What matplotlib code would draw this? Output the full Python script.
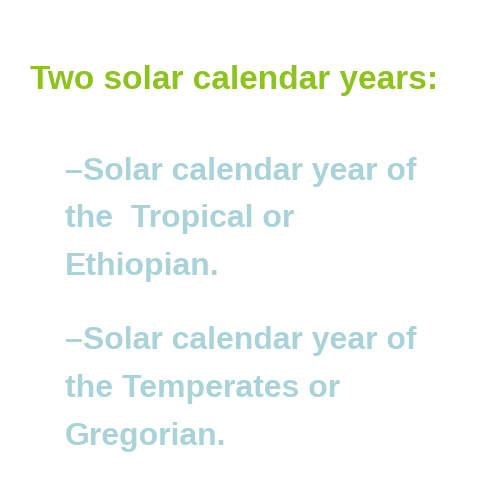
import matplotlib.pyplot as plt
from matplotlib import font_manager

title = "Two solar calendar years:"
bullet_1 = ["\u2013Solar calendar year of", "the  Tropical or", "Ethiopian."]
bullet_2 = ["\u2013Solar calendar year of", "the Temperates or", "Gregorian."]

names = {f.name for f in font_manager.fontManager.ttflist}
narrow = "Liberation Sans Narrow" in names
family = "Liberation Sans Narrow" if narrow else "Liberation Sans"
title_size = 29 if narrow else 24
body_size = 28 if narrow else 23

fig = plt.figure(figsize=(4.8, 4.8), dpi=100)
fig.patch.set_facecolor("white")

fig.text(30 / 480, 1 - 80 / 480, title, fontsize=title_size, fontweight="bold",
         color="#8DC21F", family=family, va="center")

y = 172
for block in (bullet_1, bullet_2):
    for line in block:
        fig.text(65 / 480, 1 - y / 480, line, fontsize=body_size, fontweight="bold",
                 color="#A9D3D8", family=family, va="center")
        y += 47.5
    y += 27

fig.savefig("out.png", dpi=100)
